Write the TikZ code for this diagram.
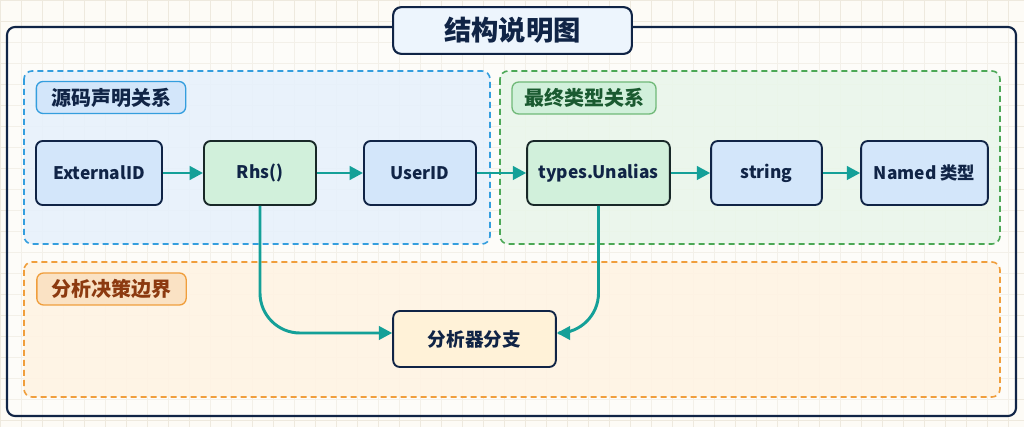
\documentclass[tikz,border=0pt]{standalone}
\usepackage{fontspec}
\setmainfont{Noto Sans CJK SC}
\usetikzlibrary{arrows.meta,positioning}
\definecolor{framenavy}{RGB}{16,36,70}
\definecolor{paper}{RGB}{253,251,246}
\definecolor{gridtan}{RGB}{238,233,222}
\definecolor{declblue}{RGB}{52,158,222}
\definecolor{declfill}{RGB}{230,241,252}
\definecolor{finalgreen}{RGB}{76,168,86}
\definecolor{finalfill}{RGB}{233,246,234}
\definecolor{branchorange}{RGB}{240,158,60}
\definecolor{branchfill}{RGB}{255,243,226}
\definecolor{typeblue}{RGB}{211,230,250}
\definecolor{stepgreen}{RGB}{209,240,219}
\definecolor{stepdark}{RGB}{24,40,40}
\definecolor{decidefill}{RGB}{255,242,216}
\definecolor{flowteal}{RGB}{20,160,152}
\definecolor{greentext}{RGB}{26,90,48}
\definecolor{browntext}{RGB}{140,58,16}

\begin{document}
\begin{tikzpicture}[x=0.75pt,y=-0.75pt,
  typebox/.style={draw=framenavy,line width=1.4pt,rounded corners=5pt,fill=typeblue,
    minimum height=48pt,text=framenavy,font=\bfseries\fontsize{13}{15}\selectfont},
  stepbox/.style={typebox,draw=stepdark,fill=stepgreen},
  zonetag/.style={line width=1pt,rounded corners=5pt,minimum height=24pt,
    font=\bfseries\fontsize{15}{17}\selectfont},
  zone/.style={line width=1.2pt,dash pattern=on 4.5pt off 3pt,rounded corners=6pt},
  flow/.style={flowteal,line width=2.2pt,-{Triangle[length=10pt,width=10pt]}}]
  \useasboundingbox (0,0) rectangle (1024,427);
  \fill[paper] (0,0) rectangle (1024,427);
  \foreach \gx in {0,21,...,1024}
    \draw[gridtan,line width=0.5pt] (\gx,0)--(\gx,427);
  \foreach \gy in {0,21,...,427}
    \draw[gridtan,line width=0.5pt] (0,\gy)--(1024,\gy);
  % outer frame and zones
  \draw[framenavy,line width=1.6pt,rounded corners=6pt,fill=white,fill opacity=0.35] (7,27) rectangle (1016,416);
  \draw[zone,declblue,fill=declfill,fill opacity=0.85] (24,71) rectangle (490,244);
  \draw[zone,finalgreen,fill=finalfill,fill opacity=0.85] (500,71) rectangle (1000,244);
  \draw[zone,branchorange,fill=branchfill,fill opacity=0.85] (24,262) rectangle (1000,397);
  \node[draw=framenavy,line width=1.6pt,rounded corners=6pt,fill=declfill!70!white,minimum width=179pt,minimum height=35pt,
    text=framenavy,font=\bfseries\fontsize{20.5}{23}\selectfont] (title) at (512.5,30.5) {结构说明图};
  \node[zonetag,draw=declblue,fill=typeblue,text=framenavy,minimum width=112pt] (decltag) at (111,97.5) {源码声明关系};
  \node[zonetag,draw=finalgreen!80,fill=stepgreen,text=greentext,minimum width=108pt] (finaltag) at (584,98) {最终类型关系};
  \node[zonetag,draw=branchorange,fill=branchorange!30!white,text=browntext,minimum width=112pt] (branchtag) at (111.5,289) {分析决策边界};
  % type chain
  \node[typebox,minimum width=94.5pt] (ext) at (99,173) {ExternalID};
  \node[stepbox,minimum width=84pt] (rhs) at (260,173) {Rhs()};
  \node[typebox,minimum width=84pt] (uid) at (420,173) {UserID};
  \node[stepbox,minimum width=107pt] (una) at (598.5,173) {types.Unalias};
  \node[typebox,minimum width=83pt] (str) at (766.5,173) {string};
  \node[typebox,minimum width=95pt] (named) at (924.5,173) {Named\ 类型};
  \node[typebox,fill=decidefill,minimum width=122pt,minimum height=42pt,font=\bfseries\fontsize{14}{16}\selectfont] (an) at (474.5,339) {分析器分支};
  \draw[flow] (ext) -- (rhs);
  \draw[flow] (rhs) -- (uid);
  \draw[flow] (uid) -- (una);
  \draw[flow] (una) -- (str);
  \draw[flow] (str) -- (named);
  \draw[flow,rounded corners=30pt] (rhs.south) |- ([yshift=4.5pt]an.west);
  \draw[flow,rounded corners=30pt] (una.south) |- ([yshift=4.5pt]an.east);
\end{tikzpicture}
\end{document}
